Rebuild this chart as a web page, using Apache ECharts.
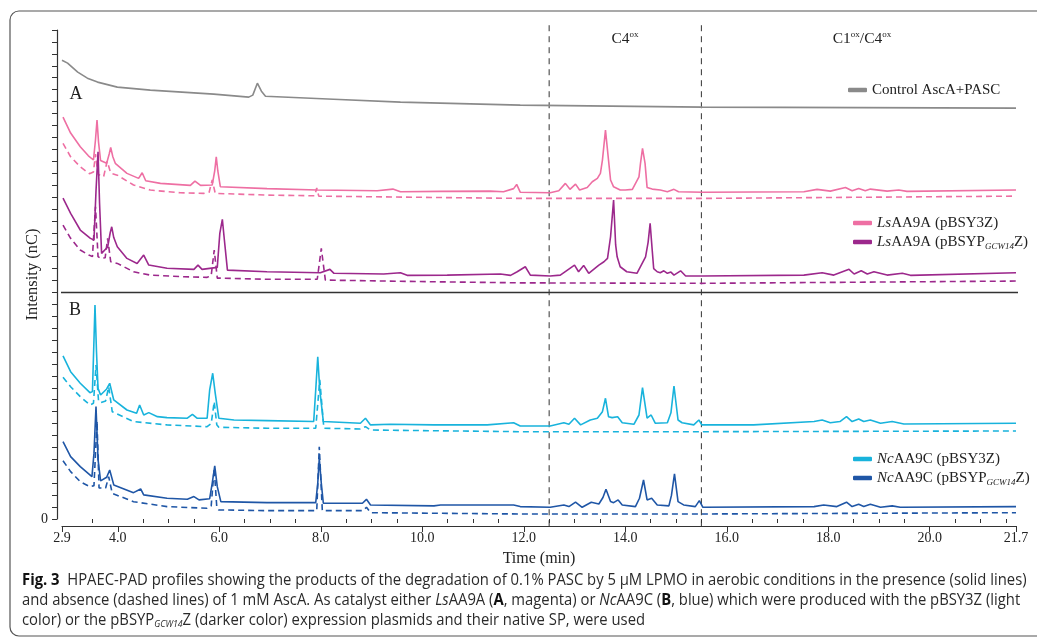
<!DOCTYPE html>
<html><head><meta charset="utf-8">
<script src="https://cdn.jsdelivr.net/npm/echarts@6/dist/echarts.min.js"></script>
<style>html,body{margin:0;padding:0;background:#fff}#c{width:1037px;height:640px}</style>
</head><body><div id="c"></div>
<script>
// ---------- axis definitions ----------
const timeMin = 2.9, timeMax = 21.7;
const majorTicks = [2.9, 4, 6, 8, 10, 12, 14, 16, 18, 20, 21.7];
const minorTicks = [3.5, 4.5, 5, 5.5, 6.5, 7, 7.5, 8.5, 9, 9.5, 10.5, 11, 11.5, 12.5, 13, 13.5, 14.5, 15, 15.5, 16.5, 17, 17.5, 18.5, 19, 19.5, 20.5, 21, 21.5];
const intensityMax = 41;
const regionBounds = [12.5, 15.5];
const panelDivider = 19.0;

// ---------- traces [time (min), intensity] ----------
const controlAscA = [[2.9,38.47],[2.93,38.47],[3.01,38.22],[3.21,37.47],[3.40,36.96],[3.60,36.63],[3.99,36.21],[4.64,35.96],[5.89,35.62],[6.58,35.37],[6.66,35.54],[6.75,36.54],[6.83,35.87],[6.91,35.45],[8.25,35.2],[9.57,34.95],[11.93,34.7],[15.52,34.53],[21.7,34.45]];

const lsY3Zsolid = [[2.92,33.7],[3.07,32.36],[3.26,31.21],[3.42,30.45],[3.52,30.1],[3.56,31.8],[3.59,33.45],[3.62,31.6],[3.66,30.05],[3.78,29.82],[3.83,30.6],[3.86,31.15],[3.9,30.4],[3.95,29.82],[4.18,28.98],[4.41,28.56],[4.48,29.03],[4.55,28.36],[4.84,28.14],[5.43,27.97],[5.52,28.33],[5.63,27.97],[5.86,28.0],[5.91,29.2],[5.94,30.37],[5.97,29.2],[6.02,27.86],[6.94,27.7],[7.93,27.58],[9.11,27.52],[9.42,27.66],[9.57,27.44],[10.36,27.47],[11.34,27.49],[11.6,27.44],[11.8,27.7],[11.86,28.05],[11.93,27.4],[12.52,27.35],[12.69,27.52],[12.82,28.14],[12.91,27.64],[13.02,28.08],[13.1,27.58],[13.25,27.8],[13.35,28.28],[13.45,28.56],[13.51,28.98],[13.55,30.09],[13.61,32.6],[13.67,30.09],[13.71,28.42],[13.77,27.85],[13.9,27.58],[14.0,27.58],[14.14,27.64],[14.27,28.69],[14.3,29.82],[14.34,31.07],[14.39,29.82],[14.43,27.8],[14.53,27.66],[14.69,27.58],[14.83,27.44],[14.96,27.64],[15.05,27.44],[15.53,27.4],[17.52,27.44],[17.78,27.64],[18.04,27.49],[18.34,27.8],[18.47,27.52],[18.6,27.72],[18.73,27.52],[18.83,27.66],[19.16,27.49],[19.39,27.58],[19.55,27.47],[21.7,27.58]];

const lsY3Zdashed = [[2.92,31.5],[3.07,30.37],[3.26,29.53],[3.44,28.95],[3.52,29.1],[3.56,30.6],[3.61,28.9],[3.72,28.7],[3.79,30.0],[3.86,29.0],[3.99,28.83],[4.31,28.0],[4.64,27.58],[5.23,27.35],[5.69,27.3],[5.8,27.4],[5.86,28.42],[5.92,27.3],[6.94,27.16],[7.88,27.1],[7.92,27.75],[7.96,27.07],[10.23,26.96],[11.93,26.88],[15.5,26.88],[21.7,27.07]];

const lsGCWsolid = [[2.92,26.9],[3.07,25.62],[3.26,24.23],[3.46,23.53],[3.53,23.39],[3.57,27.5],[3.61,30.79],[3.64,26.5],[3.68,22.27],[3.8,22.8],[3.85,24.0],[3.88,24.5],[3.92,23.6],[3.99,22.83],[4.18,21.85],[4.38,21.43],[4.51,22.13],[4.61,21.29],[4.97,21.02],[5.5,20.93],[5.58,21.29],[5.66,20.93],[5.96,21.1],[6.01,23.95],[6.06,25.12],[6.1,23.39],[6.16,20.87],[6.94,20.73],[7.99,20.65],[8.18,20.93],[8.26,20.6],[9.24,20.54],[9.57,20.65],[9.7,20.43],[10.49,20.45],[11.54,20.54],[11.74,20.43],[11.87,20.73],[12.03,21.15],[12.13,20.45],[12.52,20.37],[12.72,20.45],[13.0,21.29],[13.08,20.73],[13.18,21.26],[13.28,20.6],[13.48,21.29],[13.58,21.57],[13.65,21.85],[13.71,23.66],[13.77,26.74],[13.81,23.0],[13.84,21.98],[13.9,21.15],[14.03,20.73],[14.23,20.6],[14.4,21.98],[14.45,23.2],[14.49,24.8],[14.53,22.6],[14.56,21.0],[14.63,20.73],[14.69,20.65],[14.76,20.81],[14.83,20.6],[14.9,20.7],[14.96,20.45],[15.09,20.81],[15.19,20.37],[15.52,20.37],[17.52,20.45],[17.88,20.65],[18.11,20.45],[18.41,20.93],[18.51,20.54],[18.65,20.81],[18.77,20.54],[18.9,20.73],[19.16,20.45],[19.46,20.6],[19.62,20.43],[21.7,20.65]];

const lsGCWdashed = [[2.92,24.64],[3.07,23.53],[3.26,22.55],[3.43,22.13],[3.5,22.0],[3.56,26.18],[3.61,22.0],[3.66,21.85],[3.75,21.9],[3.8,23.53],[3.86,21.57],[3.99,21.43],[4.31,20.73],[4.64,20.45],[5.3,20.31],[5.76,20.26],[5.84,20.4],[5.9,22.55],[5.96,20.2],[6.94,20.1],[7.93,20.1],[8.01,22.69],[8.09,20.03],[10.23,19.89],[11.93,19.8],[15.5,19.76],[21.7,19.95]];

const ncY3Zsolid = [[2.92,13.67],[3.07,12.35],[3.26,11.38],[3.45,10.59],[3.5,10.68],[3.53,15.0],[3.55,17.94],[3.58,14.0],[3.61,10.96],[3.66,10.4],[3.78,10.9],[3.84,11.38],[3.92,9.98],[4.18,9.14],[4.37,8.87],[4.43,9.56],[4.51,8.72],[4.61,8.92],[4.78,8.58],[4.97,8.5],[5.37,8.45],[5.47,8.78],[5.56,8.45],[5.76,8.45],[5.81,10.82],[5.87,12.22],[5.92,10.54],[5.99,8.45],[6.29,8.3],[6.94,8.25],[7.86,8.17],[7.9,10.82],[7.94,13.61],[7.98,10.82],[8.05,8.17],[8.78,8.03],[8.88,8.45],[8.98,7.89],[9.37,7.94],[10.23,7.89],[11.28,7.89],[11.8,8.07],[11.93,7.8],[12.52,7.8],[12.79,8.07],[12.89,7.94],[13.0,8.45],[13.12,7.89],[13.31,8.3],[13.45,8.45],[13.55,9.0],[13.61,10.12],[13.67,8.58],[13.74,8.5],[13.85,8.58],[13.94,8.07],[14.17,7.94],[14.27,8.72],[14.34,11.01],[14.43,8.45],[14.51,8.72],[14.59,8.03],[14.83,8.07],[14.9,8.9],[14.96,11.15],[15.04,8.3],[15.12,8.07],[15.35,7.89],[15.45,8.3],[15.51,7.89],[16.53,7.89],[17.72,8.17],[17.88,8.3],[18.04,8.07],[18.23,8.17],[18.36,8.58],[18.47,8.17],[18.6,8.39],[18.7,8.17],[18.83,8.3],[19.03,8.03],[19.26,8.17],[19.49,7.97],[21.7,8.03]];

const ncY3Zdashed = [[2.92,11.88],[3.07,11.09],[3.26,10.26],[3.45,9.56],[3.52,9.7],[3.57,12.9],[3.62,9.9],[3.66,9.75],[3.76,9.9],[3.82,11.09],[3.89,9.0],[4.31,8.17],[4.97,7.89],[5.76,7.74],[5.84,8.0],[5.9,9.84],[5.95,7.9],[5.99,7.69],[6.94,7.61],[7.9,7.61],[7.98,11.66],[8.06,7.61],[8.78,7.55],[8.88,7.74],[8.98,7.46],[11.93,7.32],[15.5,7.32],[21.7,7.38]];

const ncGCWsolid = [[2.92,6.49],[3.07,5.23],[3.26,4.39],[3.49,3.55],[3.53,5.5],[3.57,9.42],[3.61,5.0],[3.66,3.2],[3.78,3.5],[3.84,4.11],[3.92,2.86],[4.31,2.21],[4.45,2.52],[4.51,2.02],[4.97,1.74],[5.37,1.66],[5.5,1.88],[5.6,1.6],[5.81,1.7],[5.86,2.99],[5.91,4.45],[5.96,2.71],[6.03,1.46],[6.94,1.37],[7.9,1.37],[7.94,2.99],[7.97,5.09],[8.01,2.99],[8.05,1.32],[8.82,1.32],[8.9,1.65],[8.98,1.18],[10.23,1.1],[10.36,1.18],[11.8,1.18],[11.93,1.04],[12.52,0.98],[12.79,1.18],[12.89,1.04],[13.02,1.41],[13.15,0.98],[13.33,1.41],[13.48,1.26],[13.56,1.8],[13.62,2.49],[13.71,1.46],[13.77,1.37],[13.86,1.6],[13.94,1.18],[14.2,1.04],[14.28,1.74],[14.36,3.27],[14.43,1.6],[14.52,1.74],[14.63,1.18],[14.86,1.1],[14.91,1.98],[14.97,3.78],[15.04,1.46],[15.15,1.18],[15.38,1.04],[15.46,1.54],[15.53,0.98],[17.72,1.04],[17.91,1.18],[18.17,1.04],[18.36,1.41],[18.47,1.04],[18.6,1.24],[18.7,1.04],[18.83,1.24],[19.03,0.98],[19.26,1.1],[19.42,0.98],[21.7,1.04]];

const ncGCWdashed = [[2.92,4.89],[3.07,3.97],[3.26,3.13],[3.45,2.71],[3.53,2.8],[3.59,8.2],[3.63,2.6],[3.66,2.49],[3.76,2.6],[3.82,3.55],[3.89,2.15],[4.31,1.45],[4.97,1.04],[5.76,0.9],[5.84,1.1],[5.9,4.25],[5.95,1.0],[5.99,0.76],[6.94,0.7],[7.92,0.7],[7.97,6.06],[8.03,0.7],[8.82,0.7],[8.9,0.98],[8.98,0.53],[11.93,0.42],[15.5,0.42],[21.7,0.53]];

// ---------- names ----------
const nameControl = 'Control AscA+PASC';
const nameLsY3Z = 'LsAA9A (pBSY3Z)';
const nameLsGCW = 'LsAA9A (pBSYP_GCW14 Z)';
const nameNcY3Z = 'NcAA9C (pBSY3Z)';
const nameNcGCW = 'NcAA9C (pBSYP_GCW14 Z)';
const legendRich = {};
legendRich[nameControl] = '{n|Control AscA+PASC}';
legendRich[nameLsY3Z] = '{i|Ls}{n|AA9A (pBSY3Z)}';
legendRich[nameLsGCW] = '{i|Ls}{n|AA9A (pBSYP}{s|GCW14}{n|Z)}';
legendRich[nameNcY3Z] = '{i|Nc}{n|AA9C (pBSY3Z)}';
legendRich[nameNcGCW] = '{i|Nc}{n|AA9C (pBSYP}{s|GCW14}{n|Z)}';

// ---------- colours ----------
const cGray = '#8a8a8a', cPink = '#ee6fa3', cMag = '#9c288c', cCyan = '#18b3dc', cBlue = '#1f56a6';

const SERIF = '"Liberation Serif", "Times New Roman", serif';
const SANS = '"Open Sans", "Noto Sans", sans-serif';
const AX = '#333';

function lineSeries(name, data, color, dashed) {
  return {
    type: 'line', name: name, data: data, showSymbol: false, symbol: 'none',
    animation: false, z: dashed ? 2 : 3,
    itemStyle: { color: color },
    lineStyle: { color: color, width: 1.6, type: dashed ? [6, 4] : 'solid' },
    emphasis: { disabled: true }
  };
}
function guide(data, type, width) {
  return {
    type: 'line', data: data, showSymbol: false, symbol: 'none', clip: false, silent: true,
    animation: false, z: 1, itemStyle: { color: AX },
    lineStyle: { color: AX, width: width, type: type }
  };
}

// caption text fit
const capLine1 = '{b|Fig. 3}  HPAEC-PAD profiles showing the products of the degradation of 0.1% PASC by 5 \u00b5M LPMO in aerobic conditions in the presence (solid lines)';
const capLine2 = 'and absence (dashed lines) of 1 mM AscA. As catalyst either {i|Ls}AA9A ({b|A}, magenta) or {i|Nc}AA9C ({b|B}, blue) which were produced with the pBSY3Z (light';
const capLine3 = 'color) or the pBSYP{s|GCW14}Z (darker color) expression plasmids and their native SP, were used';
const capSize = 16;
function plain(s) { return s.replace(/\{\w+\|([^}]*)\}/g, '$1'); }
const mctx = document.createElement('canvas').getContext('2d');
mctx.font = capSize + 'px ' + SANS;
const w1 = mctx.measureText(plain(capLine1)).width;
const w2 = mctx.measureText(plain(capLine2)).width;
const capScale = ((1001 / w1) + (1001 / w2)) / 2;

const capRich = {
  b: { fontWeight: 'bold', fontSize: capSize, fontFamily: SANS, fill: '#111', lineHeight: 18 },
  i: { fontStyle: 'italic', fontSize: capSize, fontFamily: SANS, fill: '#2a2a2a', lineHeight: 18 },
  s: { fontStyle: 'italic', fontSize: 9.5, fontFamily: SANS, fill: '#2a2a2a', lineHeight: 4, verticalAlign: 'bottom' }
};
function capText(txt, y) {
  return {
    type: 'text', x: 22, y: y, scaleX: capScale, scaleY: 1,
    style: { text: txt, fontSize: capSize, fontFamily: SANS, fill: '#2a2a2a', lineHeight: 18,
      textAlign: 'left', align: 'left', textVerticalAlign: 'middle', verticalAlign: 'middle', rich: capRich }
  };
}
function headText(txt, x, y, size) {
  return {
    type: 'text', x: x, y: y,
    style: { text: txt, fontSize: size, fontFamily: SERIF, fill: '#222', lineHeight: 18,
      textAlign: 'center', align: 'center', textVerticalAlign: 'middle', verticalAlign: 'middle',
      rich: {
        n: { fontSize: size, fontFamily: SERIF, fill: '#222', lineHeight: 18 },
        u: { fontSize: 9, fontFamily: SERIF, fill: '#222', lineHeight: 9, verticalAlign: 'top' }
      } }
  };
}

const legendText = {
  fontFamily: SERIF, fontSize: 15, color: '#222', lineHeight: 18,
  rich: {
    n: { fontFamily: SERIF, fontSize: 15, color: '#222', lineHeight: 18 },
    i: { fontFamily: SERIF, fontSize: 15, color: '#222', fontStyle: 'italic', lineHeight: 18 },
    s: { fontFamily: SERIF, fontSize: 9, color: '#222', fontStyle: 'italic', lineHeight: 3, verticalAlign: 'bottom' }
  }
};
function legendCfg(names, left, top) {
  return {
    data: names, orient: 'vertical', left: left, top: top, padding: 0, itemGap: 1,
    itemWidth: 19, itemHeight: 4.5, icon: 'roundRect', selectedMode: false,
    formatter: function (n) { return legendRich[n]; }, textStyle: legendText
  };
}

const option = {
  animation: false,
  backgroundColor: '#fff',
  grid: { left: 62, right: 21, top: 30, bottom: 121, containLabel: false },
  xAxis: [{
    type: 'value', min: timeMin, max: timeMax, offset: 7,
    axisLine: { show: true, onZero: false, lineStyle: { color: AX, width: 1.2 } },
    axisTick: { show: true, length: 6, customValues: majorTicks, lineStyle: { color: AX } },
    axisLabel: { show: true, customValues: majorTicks, formatter: function (v) { return v.toFixed(1); },
      margin: 5, fontFamily: SERIF, fontSize: 14, color: '#222' },
    splitLine: { show: false },
    name: 'Time (min)', nameLocation: 'middle', nameGap: 25, nameMoveOverlap: false,
    nameTextStyle: { fontFamily: SERIF, fontSize: 16, color: '#222' }
  }, {
    type: 'value', min: timeMin, max: timeMax, offset: 7, position: 'bottom',
    axisLine: { show: false },
    axisTick: { show: true, length: 4, customValues: minorTicks, lineStyle: { color: AX } },
    axisLabel: { show: false }, splitLine: { show: false }
  }],
  yAxis: {
    type: 'value', min: 0, max: intensityMax, interval: 1, offset: 5,
    axisLine: { show: true, lineStyle: { color: AX, width: 1.2 } },
    axisTick: { show: true, length: 5, lineStyle: { color: AX } },
    axisLabel: { show: true, margin: 9, fontFamily: SERIF, fontSize: 14, color: '#222',
      formatter: function (v) { return v === 0 ? '0' : ''; } },
    splitLine: { show: false },
    name: 'Intensity (nC)', nameLocation: 'middle', nameRotate: 90, nameGap: 16, nameMoveOverlap: false,
    nameTextStyle: { fontFamily: SERIF, fontSize: 16.5, color: '#222' }
  },
  legend: [
    legendCfg([nameControl], 848, 81),
    legendCfg([nameLsY3Z, nameLsGCW], 853, 214),
    legendCfg([nameNcY3Z, nameNcGCW], 853, 450)
  ],
  series: [
    guide([[regionBounds[0], 41.4], [regionBounds[0], -0.67]], [6, 5], 1),
    guide([[regionBounds[1], 41.4], [regionBounds[1], -0.67]], [6, 5], 1),
    guide([[2.77, panelDivider], [21.83, panelDivider]], 'solid', 1.5),
    lineSeries(nameControl, controlAscA, cGray, false),
    lineSeries('LsY3Z-noAscA', lsY3Zdashed, cPink, true),
    lineSeries('LsGCW-noAscA', lsGCWdashed, cMag, true),
    lineSeries('NcY3Z-noAscA', ncY3Zdashed, cCyan, true),
    lineSeries('NcGCW-noAscA', ncGCWdashed, cBlue, true),
    lineSeries(nameLsY3Z, lsY3Zsolid, cPink, false),
    lineSeries(nameLsGCW, lsGCWsolid, cMag, false),
    lineSeries(nameNcY3Z, ncY3Zsolid, cCyan, false),
    lineSeries(nameNcGCW, ncGCWsolid, cBlue, false)
  ],
  graphic: [
    { type: 'rect', shape: { x: 10, y: 11, width: 1040, height: 625, r: 9 }, silent: true,
      style: { fill: 'none', stroke: '#555', lineWidth: 1.2 } },
    headText('A', 76, 94, 18),
    headText('B', 75, 310, 18),
    headText('{n|C4}{u|ox}', 625, 39, 15.5),
    headText('{n|C1}{u|ox}{n|/C4}{u|ox}', 862, 39, 15.5),
    capText(capLine1, 580),
    capText(capLine2, 600),
    capText(capLine3, 620)
  ]
};

const chart = echarts.init(document.getElementById('c'), null, { renderer: 'canvas' });
chart.setOption(option);
</script>
</body></html>
